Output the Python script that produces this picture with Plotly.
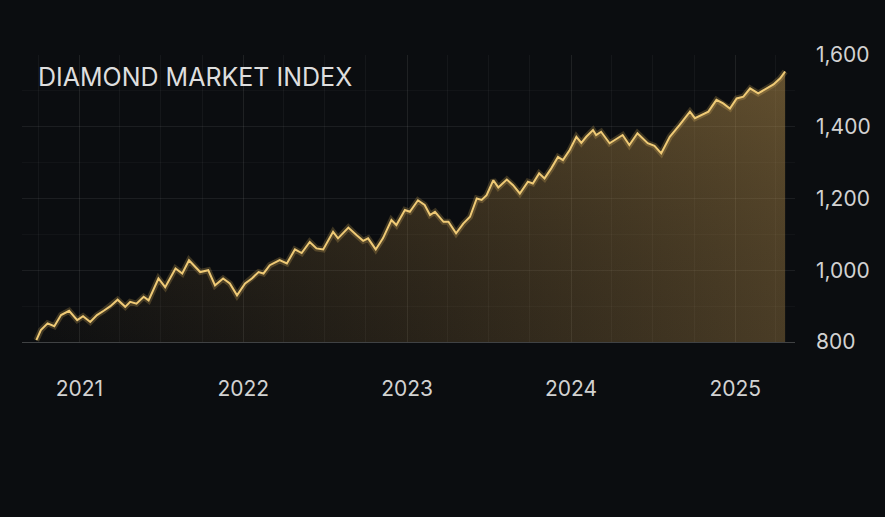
import plotly.graph_objects as go

dates = [
    "2020-09-27", "2020-10-07", "2020-10-22", "2020-11-06", "2020-11-21", "2020-12-09", "2020-12-27",
    "2021-01-09", "2021-01-25", "2021-02-09", "2021-02-24", "2021-03-11", "2021-03-27", "2021-04-13",
    "2021-04-24", "2021-05-08", "2021-05-24", "2021-06-04", "2021-06-26", "2021-07-11", "2021-08-03",
    "2021-08-18", "2021-09-02", "2021-09-27", "2021-10-15", "2021-10-30", "2021-11-17", "2021-12-02",
    "2021-12-18", "2022-01-05", "2022-01-20", "2022-02-04", "2022-02-15", "2022-03-01", "2022-03-23",
    "2022-04-08", "2022-04-26", "2022-05-11", "2022-05-29", "2022-06-13", "2022-06-28", "2022-07-20",
    "2022-07-31", "2022-08-23", "2022-09-10", "2022-09-25", "2022-10-06", "2022-10-23", "2022-11-08",
    "2022-11-27", "2022-12-08", "2022-12-27", "2023-01-07", "2023-01-25", "2023-02-09", "2023-02-21",
    "2023-03-04", "2023-03-23", "2023-04-03", "2023-04-20", "2023-05-06", "2023-05-21", "2023-06-05",
    "2023-06-16", "2023-06-27", "2023-07-12", "2023-07-23", "2023-08-11", "2023-08-25", "2023-09-09",
    "2023-09-27", "2023-10-08", "2023-10-22", "2023-11-03", "2023-11-18", "2023-12-03", "2023-12-14",
    "2023-12-29", "2024-01-13", "2024-01-24", "2024-02-04", "2024-02-19", "2024-02-26", "2024-03-08",
    "2024-03-27", "2024-04-07", "2024-04-25", "2024-05-10", "2024-05-28", "2024-06-20", "2024-07-05",
    "2024-07-20", "2024-08-08", "2024-08-30", "2024-09-22", "2024-10-03", "2024-10-18", "2024-11-02",
    "2024-11-20", "2024-12-05", "2024-12-20", "2025-01-04", "2025-01-19", "2025-02-03", "2025-02-21",
    "2025-03-12", "2025-03-27", "2025-04-11", "2025-04-22",
]
index_values = [
    805, 833, 852, 844, 875, 887, 861,
    872, 856, 875, 887, 900, 918, 898,
    912, 907, 926, 916, 977, 953, 1005,
    991, 1028, 995, 1000, 958, 977, 963,
    930, 963, 977, 995, 991, 1014, 1028,
    1019, 1058, 1048, 1079, 1061, 1058, 1107,
    1089, 1119, 1098, 1082, 1089, 1058, 1089,
    1140, 1126, 1168, 1163, 1195, 1182, 1154,
    1163, 1135, 1135, 1103, 1130, 1149, 1200,
    1196, 1209, 1251, 1231, 1253, 1237, 1214,
    1247, 1242, 1270, 1256, 1284, 1316, 1307,
    1335, 1372, 1355, 1372, 1391, 1377, 1386,
    1354, 1363, 1377, 1349, 1382, 1354, 1347,
    1326, 1372, 1405, 1442, 1424, 1433, 1442,
    1475, 1465, 1451, 1479, 1484, 1507, 1493,
    1507, 1518, 1535, 1554,
]

title_text = "DIAMOND MARKET INDEX"
y_ticks = [800, 1000, 1200, 1400, 1600]
x_ticks = ["2021-01-01", "2022-01-01", "2023-01-01", "2024-01-01", "2025-01-01"]
x_ticklabels = ["2021", "2022", "2023", "2024", "2025"]

fig = go.Figure()

# horizontal warm gradient fill
fig.add_trace(go.Scatter(
    x=dates, y=index_values, mode="lines", line=dict(width=0),
    fill="tozeroy",
    fillgradient=dict(type="horizontal",
                      colorscale=[[0, "rgba(150,115,55,0.02)"], [0.5, "rgba(165,125,62,0.19)"],
                                  [1, "rgba(190,148,78,0.35)"]]),
    hoverinfo="skip", showlegend=False,
))
# vertical gradient fill (brighter near the line)
fig.add_trace(go.Scatter(
    x=dates, y=index_values, mode="lines", line=dict(width=0),
    fill="tozeroy",
    fillgradient=dict(type="vertical", start=800, stop=1560,
                      colorscale=[[0, "rgba(120,95,50,0.0)"], [1, "rgba(200,160,85,0.2)"]]),
    hoverinfo="skip", showlegend=False,
))
# glow
fig.add_trace(go.Scatter(
    x=dates, y=index_values, mode="lines",
    line=dict(color="rgba(240,195,100,0.22)", width=6, shape="linear"),
    hoverinfo="skip", showlegend=False,
))
# main line
fig.add_trace(go.Scatter(
    x=dates, y=index_values, mode="lines",
    line=dict(color="#efca76", width=2),
    showlegend=False,
))

grid_color = "rgba(255,255,255,0.045)"
fig.update_layout(
    width=885, height=517,
    margin=dict(l=22, r=90, t=55, b=175),
    paper_bgcolor="#0b0d10",
    plot_bgcolor="#0b0d10",
    font=dict(family="Inter, Roboto, sans-serif", color="#d2d2d2"),
    title=dict(text=title_text, x=38 / 885, xanchor="left", xref="container",
               y=1 - 77 / 517, yanchor="middle", yref="container",
               font=dict(size=25, color="#dedede", family="Inter, sans-serif")),
    xaxis=dict(
        type="date",
        range=["2020-08-26", "2025-05-14"],
        tickvals=x_ticks, ticktext=x_ticklabels,
        tickfont=dict(size=21, color="#d2d2d2"),
        ticks="", ticklabelstandoff=28,
        showgrid=True, gridcolor=grid_color, gridwidth=1,
        minor=dict(dtick="M3", tick0="2020-10-01", showgrid=True, gridcolor=grid_color),
        showline=True, linecolor="rgba(255,255,255,0.22)", linewidth=1,
        zeroline=False, fixedrange=True,
    ),
    yaxis=dict(
        side="right",
        range=[800, 1600],
        tickvals=y_ticks, tickformat=",d",
        tickfont=dict(size=21, color="#d2d2d2"),
        ticks="", ticklabelstandoff=20,
        showgrid=True, gridcolor=grid_color,
        minor=dict(dtick=100, showgrid=True, gridcolor="rgba(255,255,255,0.03)"),
        zeroline=False, showline=False, fixedrange=True,
    ),
)

fig.write_html("out.html")
